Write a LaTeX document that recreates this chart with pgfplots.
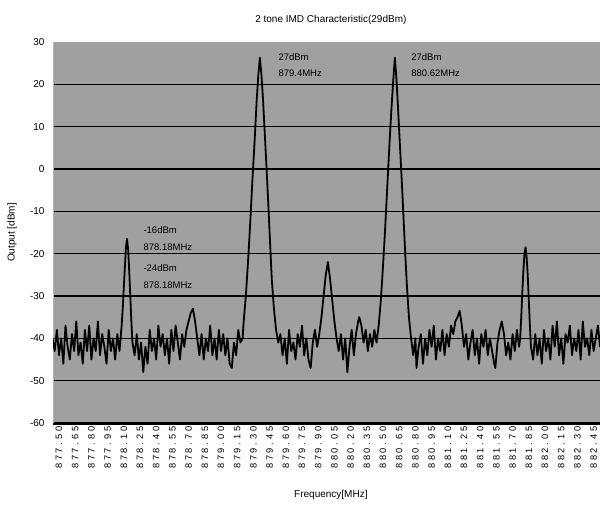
\documentclass[border=0pt]{standalone}
\usepackage{pgfplots}
\pgfplotsset{compat=1.18}
\usepackage{fontspec}
\setmainfont{Liberation Sans}
\newfontfamily\spaced[LetterSpace=30]{Liberation Sans}
\definecolor{bg}{RGB}{160,160,160}
\pgfplotstableread{
f v
877.44 -40
877.46 -43
877.48 -38
877.50 -44
877.52 -40
877.54 -46
877.56 -37
877.58 -42
877.60 -45
877.62 -39
877.64 -43
877.66 -36
877.68 -44
877.70 -41
877.72 -46
877.74 -38
877.76 -43
877.78 -37
877.80 -45
877.82 -40
877.84 -43
877.86 -36
877.88 -44
877.90 -39
877.92 -42
877.94 -46
877.96 -38
877.98 -43
878.00 -40
878.02 -45
878.04 -39
878.06 -43
878.07 -40
878.08 -37
878.09 -33
878.10 -28
878.11 -23
878.12 -18.5
878.13 -16.5
878.14 -19
878.15 -24
878.16 -30
878.17 -36
878.18 -41
878.20 -44
878.22 -39
878.24 -45
878.26 -41
878.28 -48
878.30 -42
878.32 -46
878.34 -38
878.36 -43
878.38 -40
878.40 -45
878.42 -37
878.44 -42
878.46 -39
878.48 -44
878.50 -40
878.52 -46
878.54 -38
878.56 -43
878.58 -37
878.60 -41
878.62 -45
878.64 -39
878.66 -42
878.68 -38
878.70 -36
878.72 -34
878.74 -33
878.76 -36
878.78 -40
878.80 -44
878.82 -39
878.84 -45
878.86 -40
878.88 -43
878.90 -37
878.92 -44
878.94 -40
878.96 -45
878.98 -38
879.00 -43
879.02 -39
879.04 -44
879.06 -40
879.08 -46
879.10 -47
879.12 -41
879.14 -44
879.16 -38
879.18 -41
879.20 -40
879.21 -36
879.23 -30
879.25 -22
879.27 -13
879.29 -3
879.31 6
879.33 16
879.345 22
879.36 26.3
879.375 22
879.39 16
879.41 6
879.43 -4
879.45 -15
879.47 -26
879.49 -33
879.51 -38
879.53 -41
879.55 -39
879.57 -44
879.59 -40
879.61 -46
879.63 -38
879.65 -43
879.67 -41
879.69 -45
879.71 -39
879.73 -42
879.75 -37
879.77 -44
879.79 -40
879.81 -45
879.83 -47
879.85 -41
879.87 -38
879.89 -42
879.91 -39
879.93 -35
879.95 -30
879.97 -25
879.99 -22
880.01 -26
880.03 -31
880.05 -36
880.07 -40
880.09 -43
880.11 -39
880.13 -45
880.15 -40
880.17 -48
880.19 -42
880.21 -38
880.23 -44
880.25 -39
880.27 -36
880.28 -35
880.30 -37
880.32 -41
880.34 -38
880.36 -43
880.38 -39
880.40 -42
880.42 -38
880.44 -41
880.45 -39
880.46 -37
880.48 -31
880.50 -23
880.52 -14
880.54 -4
880.56 6
880.58 15
880.595 21
880.61 26.3
880.625 21
880.64 14
880.66 4
880.68 -6
880.70 -17
880.72 -27
880.74 -35
880.76 -40
880.78 -44
880.80 -40
880.81 -47
880.83 -42
880.85 -39
880.87 -46
880.89 -40
880.91 -44
880.93 -38
880.95 -42
880.97 -37
880.99 -45
881.01 -40
881.03 -43
881.05 -38
881.07 -44
881.09 -39
881.11 -42
881.13 -37
881.15 -39
881.17 -36
881.19 -35
881.21 -33.5
881.23 -37
881.25 -42
881.27 -39
881.29 -45
881.31 -41
881.33 -38
881.35 -44
881.37 -40
881.39 -46
881.41 -39
881.43 -42
881.45 -38
881.47 -44
881.49 -40
881.51 -43
881.53 -46
881.54 -47
881.56 -41
881.58 -38
881.60 -36
881.62 -39
881.64 -44
881.66 -41
881.68 -45
881.70 -39
881.72 -43
881.74 -38
881.76 -42
881.77 -40
881.78 -35
881.79 -29
881.80 -24
881.81 -20
881.82 -18.5
881.83 -21
881.84 -25
881.85 -31
881.86 -37
881.87 -42
881.89 -45
881.91 -39
881.93 -44
881.95 -40
881.97 -46
881.99 -38
882.01 -43
882.03 -40
882.05 -45
882.07 -37
882.09 -42
882.11 -36
882.13 -44
882.15 -40
882.17 -46
882.19 -39
882.21 -41
882.23 -37
882.25 -44
882.27 -40
882.29 -43
882.31 -38
882.33 -45
882.35 -36
882.37 -42
882.39 -40
882.41 -44
882.43 -38
882.45 -43
882.47 -40
882.49 -37
882.51 -42
}\spectrum
\begin{document}
\begin{tikzpicture}
\useasboundingbox (0,0) rectangle (600pt,504pt);
\begin{axis}[
  at={(53pt,81pt)}, anchor=south west,
  scale only axis, width=547pt, height=381pt,
  xmin=877.4444, xmax=882.5093, ymin=-60, ymax=30,
  axis background/.style={fill=bg},
  axis x line*=bottom, axis y line*=left,
  x axis line style={line width=3pt, black, -},
  y axis line style={line width=0.6pt, gray!60, -},
  major tick length=0pt,
  ytick={-50,-40,...,20}, extra y ticks={-60,30},
  extra y tick style={grid=none},
  ymajorgrids, grid style={black, line width=1.6pt},
  /pgf/number format/assume math mode=true,
  yticklabel style={font=\fontsize{10}{12}\selectfont, xshift=-5pt},
  xtick={877.50,877.65,877.80,877.95,878.10,878.25,878.40,878.55,878.70,878.85,879.00,879.15,879.30,879.45,879.60,879.75,879.90,880.05,880.20,880.35,880.50,880.65,880.80,880.95,881.10,881.25,881.40,881.55,881.70,881.85,882.00,882.15,882.30,882.45},
  xticklabels={877.50,877.65,877.80,877.95,878.10,878.25,878.40,878.55,878.70,878.85,879.00,879.15,879.30,879.45,879.60,879.75,879.90,880.05,880.20,880.35,880.50,880.65,880.80,880.95,881.10,881.25,881.40,881.55,881.70,881.85,882.00,882.15,882.30,882.45},
  xticklabel style={rotate=90, anchor=east, font=\spaced\fontsize{9.3}{11}\selectfont},
  title={2 tone IMD Characteristic(29dBm)},
  title style={font=\fontsize{10}{12}\selectfont, at={(axis description cs:0.508,1)}, anchor=center, yshift=16pt},
  xlabel={Frequency[MHz]},
  xlabel style={font=\fontsize{10}{12}\selectfont, at={(axis description cs:0.508,-0.189)}, anchor=center},
  ylabel={Output [dBm]},
  ylabel style={font=\fontsize{10}{12}\selectfont, at={(axis description cs:-0.075,0.5)}, anchor=center},
  clip=true,
]
\addplot[black, line width=1.8pt, line join=round] table[x=f, y=v] {\spectrum};
\node[anchor=west, font=\fontsize{9.5}{11}\selectfont] at (axis cs:879.50,26.5) {27dBm};
\node[anchor=west, font=\fontsize{9.5}{11}\selectfont] at (axis cs:879.50,22.7) {879.4MHz};
\node[anchor=west, font=\fontsize{9.5}{11}\selectfont] at (axis cs:880.73,26.5) {27dBm};
\node[anchor=west, font=\fontsize{9.5}{11}\selectfont] at (axis cs:880.73,22.7) {880.62MHz};
\node[anchor=west, font=\fontsize{9.5}{11}\selectfont] at (axis cs:878.25,-14.4) {-16dBm};
\node[anchor=west, font=\fontsize{9.5}{11}\selectfont] at (axis cs:878.25,-18.4) {878.18MHz};
\node[anchor=west, font=\fontsize{9.5}{11}\selectfont] at (axis cs:878.25,-23.4) {-24dBm};
\node[anchor=west, font=\fontsize{9.5}{11}\selectfont] at (axis cs:878.25,-27.4) {878.18MHz};
\end{axis}
\end{tikzpicture}
\end{document}
